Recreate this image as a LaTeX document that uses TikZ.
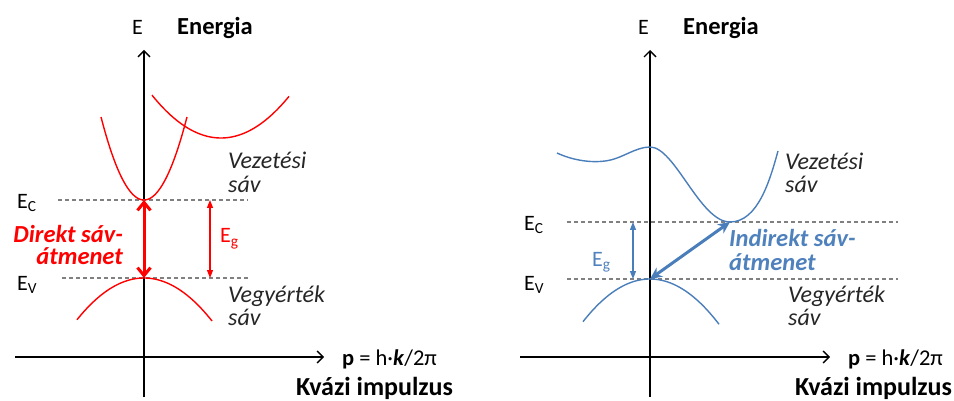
\documentclass[tikz,border=0pt]{standalone}
\usepackage{fontspec}
\setmainfont{Carlito}
\usetikzlibrary{arrows.meta}
\definecolor{myred}{RGB}{255,0,0}
\definecolor{myblue}{RGB}{74,126,187}
\definecolor{txtblue}{RGB}{79,129,189}
\definecolor{dgray}{RGB}{128,128,128}
\definecolor{tgray}{RGB}{38,38,38}
\begin{document}
\begin{tikzpicture}[x=1pt,y=-1pt,
  lbl/.style={font=\fontsize{22}{26}\selectfont, inner sep=0pt, anchor=base west},
  ital/.style={lbl, font=\fontsize{24}{28}\selectfont\itshape, text=tgray},
  bigbold/.style={lbl, font=\fontsize{24.5}{28}\selectfont\bfseries},
  trans/.style={lbl, font=\fontsize{24.5}{28}\selectfont\bfseries\itshape},
  plab/.style={lbl, font=\fontsize{22.5}{26}\selectfont},
  kvazi/.style={lbl, font=\fontsize{26}{30}\selectfont\bfseries},
  axis/.style={line width=1.4pt, -{Straight Barb[length=6pt,width=12pt]}},
  level/.style={dgray, line width=1.2pt, dash pattern=on 4pt off 3pt},
  band/.style={line width=1.4pt},
  thinarr/.style={line width=1.3pt, {Triangle[length=8pt,width=6pt]}-{Triangle[length=8pt,width=6pt]}},
]
\useasboundingbox (0,0) rectangle (954,401);

% ================= LEFT PANEL =================
\coordinate (LyTop) at (144,50);
\coordinate (LyBot) at (144,397);
\coordinate (LxL) at (15,357);
\coordinate (LxR) at (324,357);
\draw[axis] (LyBot) -- (LyTop);
\draw[axis] (LxL) -- (LxR);

\node[lbl] (LE) at (132,35) {E};
\node[bigbold] (LEn) at (177,35) {Energia};

% levels
\coordinate (LCl) at (58,200); \coordinate (LCr) at (248,200);
\coordinate (LVl) at (62,278); \coordinate (LVr) at (248,278);
\draw[level] (LCl) -- (LCr);
\draw[level] (LVl) -- (LVr);

% bands
\draw[band, myred, domain=101:187, samples=60] plot (\x, {200-0.0449*(\x-144)^2});
\draw[band, myred, domain=152:289, samples=60] plot (\x, {138-0.009*(\x-221)^2});
\draw[band, myred, domain=77:212, samples=60] plot (\x, {278+0.0093*(\x-144)^2});

% arrows
\coordinate (LC) at (144,200); \coordinate (LV) at (144,278);
\draw[myred, line width=3pt, {Straight Barb[length=8pt,width=13pt]}-{Straight Barb[length=8pt,width=13pt]}] (LC) -- (LV);
\coordinate (LgC) at (210,200); \coordinate (LgV) at (210,278);
\draw[myred, thinarr] (LgC) -- (LgV);

% labels
\node[lbl] (LEc) at (17,208) {E\textsubscript{C}};
\node[lbl] (LEv) at (17,290) {E\textsubscript{V}};
\node[lbl, text=myred] (LEg) at (220,243) {E\textsubscript{g}};
\node[trans, anchor=base east, text=myred] (LD1) at (123,242) {Direkt sáv-};
\node[trans, anchor=base east, text=myred] (LD2) at (123,265) {átmenet};
\node[ital] (LVz1) at (228,169) {Vezetési};
\node[ital] (LVz2) at (228,193) {sáv};
\node[ital] (LVg1) at (228,302) {Vegyérték};
\node[ital] (LVg2) at (228,325) {sáv};

\node[plab] (Lp) at (342,365) {\textbf{p} = h·\textbf{\textit{k}}/2π};
\node[kvazi] (LK) at (296,395) {Kvázi impulzus};

% ================= RIGHT PANEL =================
\coordinate (RyTop) at (650,50);
\coordinate (RyBot) at (650,397);
\coordinate (RxL) at (520,357);
\coordinate (RxR) at (830,357);
\draw[axis] (RyBot) -- (RyTop);
\draw[axis] (RxL) -- (RxR);

\node[lbl] (RE) at (638,35) {E};
\node[bigbold] (REn) at (683,35) {Energia};

\coordinate (RCl) at (567,222); \coordinate (RCr) at (898,222);
\coordinate (RVl) at (567,279); \coordinate (RVr) at (898,279);
\draw[level] (RCl) -- (RCr);
\draw[level] (RVl) -- (RVr);

\draw[band, myblue] (557,153) .. controls (572,160) and (590,163) .. (605,161)
  .. controls (622,159) and (635,147) .. (650,147)
  .. controls (675,147) and (700,222) .. (730,222)
  .. controls (758,222) and (770,180) .. (778,151);
\draw[band, myblue, domain=583:719, samples=60] plot (\x, {279+0.0095*(\x-650)^2});

\coordinate (RV) at (650,279); \coordinate (RC) at (730,222);
\draw[myblue, line width=3pt, {Stealth[length=12pt,width=11pt]}-{Stealth[length=12pt,width=11pt]}] (RV) -- (RC);
\coordinate (RgC) at (633,222); \coordinate (RgV) at (633,279);
\draw[myblue, thinarr] (RgC) -- (RgV);

\node[lbl] (REc) at (524,230) {E\textsubscript{C}};
\node[lbl] (REv) at (524,290) {E\textsubscript{V}};
\node[lbl, text=txtblue] (REg) at (592,266) {E\textsubscript{g}};
\node[trans, text=txtblue] (RI1) at (729,247) {Indirekt sáv-};
\node[trans, text=txtblue] (RI2) at (729,270) {átmenet};
\node[ital] (RVz1) at (785,170) {Vezetési};
\node[ital] (RVz2) at (785,193) {sáv};
\node[ital] (RVg1) at (788,302) {Vegyérték};
\node[ital] (RVg2) at (788,325) {sáv};

\node[plab] (Rp) at (848,365) {\textbf{p} = h·\textbf{\textit{k}}/2π};
\node[kvazi] (RK) at (795,395) {Kvázi impulzus};
\end{tikzpicture}
\end{document}
